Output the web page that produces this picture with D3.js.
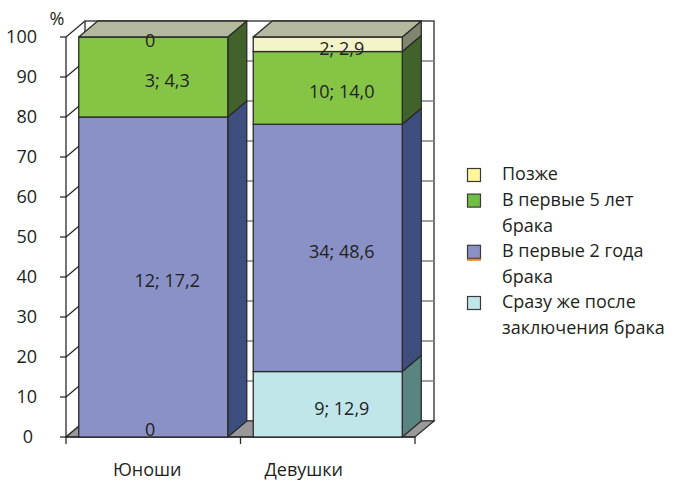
<!DOCTYPE html>
<html>
<head>
<meta charset="utf-8">
<script src="https://cdn.jsdelivr.net/npm/d3@7"></script>
<style>
  html, body { margin: 0; padding: 0; background: #fff; }
  svg text { font-family: "Open Sans", "Noto Sans", sans-serif; fill: #231f20; }
</style>
</head>
<body>
<svg id="chart" width="673" height="483"></svg>
<script>
// Categories and raw counts per series (bottom to top of each stack)
const categories = ["Юноши", "Девушки"];
const seriesNames = ["Сразу же после заключения брака", "В первые 2 года брака", "В первые 5 лет брака", "Позже"];
const counts = {
  "Юноши":   [0, 12, 3, 0],
  "Девушки": [9, 34, 10, 2]
};
const percents = {
  "Юноши":   [null, 17.2, 4.3, null],
  "Девушки": [12.9, 48.6, 14.0, 2.9]
};
const yTicks = [0, 10, 20, 30, 40, 50, 60, 70, 80, 90, 100];

// Face colours: front, side, legend swatch
const frontColors = ["#c0e6ea", "#8a91c6", "#86c446", "#f4f4c8"];
const sideColors  = ["#5a8480", "#3e4f7f", "#41622a", "#7e8670"];
const swatchColors = ["#c0e6ea", "#8a91c6", "#70bf44", "#fff799"];
const topColor = "#b4b99d";
const stroke = "#2a2a2a";
const fs = 18;

const svg = d3.select("#chart");

// Plot frame (front plane) and depth offset of the 3D box
const x0 = 66, x1 = 415, yTop = 37, yBot = 437;
const dx = 19, dy = 16;

const y = d3.scaleLinear().domain([0, 100]).range([yBot, yTop]);
const x = d3.scaleBand().domain(categories).range([x0, x1])
  .paddingInner(0.146).paddingOuter(0.073);

const poly = pts => "M" + pts.map(p => p.join(",")).join("L") + "Z";

// Back wall with gridlines
svg.append("rect")
  .attr("x", x0 + dx).attr("y", yTop - dy)
  .attr("width", x1 - x0).attr("height", yBot - yTop)
  .attr("fill", "#fff").attr("stroke", stroke).attr("stroke-width", 1.3);
svg.append("g").selectAll("line").data(yTicks.slice(1, -1)).join("line")
  .attr("x1", x0 + dx).attr("x2", x1 + dx)
  .attr("y1", d => y(d) - dy).attr("y2", d => y(d) - dy)
  .attr("stroke", "#808080").attr("stroke-width", 1.3);

// Side wall diagonals
svg.append("g").selectAll("line").data(yTicks).join("line")
  .attr("x1", x0).attr("x2", x0 + dx)
  .attr("y1", d => y(d)).attr("y2", d => y(d) - dy)
  .attr("stroke", stroke).attr("stroke-width", 1.2);

// Floor
svg.append("path")
  .attr("d", poly([[x0, yBot], [x1, yBot], [x1 + dx, yBot - dy], [x0 + dx, yBot - dy]]))
  .attr("fill", "#999999").attr("stroke", stroke).attr("stroke-width", 1.2);

// Front axes
svg.append("line").attr("x1", x0).attr("x2", x0).attr("y1", yTop).attr("y2", yBot)
  .attr("stroke", stroke).attr("stroke-width", 1.3);
svg.append("line").attr("x1", x0).attr("x2", x1).attr("y1", yBot).attr("y2", yBot)
  .attr("stroke", stroke).attr("stroke-width", 1.3);
svg.append("g").selectAll("line").data(yTicks).join("line")
  .attr("x1", x0 - 6).attr("x2", x0)
  .attr("y1", d => y(d)).attr("y2", d => y(d))
  .attr("stroke", stroke).attr("stroke-width", 1.3);
svg.append("g").selectAll("text").data(yTicks).join("text")
  .attr("x", d => d === 0 ? 33 : 37).attr("y", d => y(d))
  .attr("dy", "0.36em").attr("text-anchor", "end")
  .attr("font-size", fs).text(d => d);
svg.append("text").attr("x", 57).attr("y", 19).attr("dy", "0.36em")
  .attr("text-anchor", "middle").attr("font-size", fs).text("%");

// Category ticks at band boundaries
const step = x.step();
const boundaries = [x0].concat(categories.map((c, i) => x0 + step * (i + 1)));
svg.append("g").selectAll("line").data(boundaries).join("line")
  .attr("x1", d => d).attr("x2", d => d)
  .attr("y1", yBot).attr("y2", yBot + 7)
  .attr("stroke", stroke).attr("stroke-width", 1.3);
const catNudge = { "Юноши": -6, "Девушки": -24 };
svg.append("g").selectAll("text").data(categories).join("text")
  .attr("x", d => x(d) + x.bandwidth() / 2 + catNudge[d])
  .attr("y", 470).attr("dy", "0.36em")
  .attr("text-anchor", "middle").attr("font-size", fs).text(d => d);

// Stacked 3D bars, normalised to 100 %
categories.forEach(cat => {
  const vals = counts[cat];
  const total = d3.sum(vals);
  const bx = x(cat), bw = x.bandwidth();
  let acc = 0;
  const segs = vals.map((v, i) => {
    const s = { i, v, lo: acc / total * 100, hi: (acc + v) / total * 100 };
    acc += v;
    return s;
  });
  const g = svg.append("g");
  segs.forEach(s => {
    if (s.v === 0) return;
    const ya = y(s.lo), yb = y(s.hi);
    g.append("path")
      .attr("d", poly([[bx + bw, yb], [bx + bw + dx, yb - dy], [bx + bw + dx, ya - dy], [bx + bw, ya]]))
      .attr("fill", sideColors[s.i]).attr("stroke", stroke).attr("stroke-width", 1.3)
      .attr("stroke-linejoin", "round");
    g.append("rect")
      .attr("x", bx).attr("y", yb).attr("width", bw).attr("height", ya - yb)
      .attr("fill", frontColors[s.i]).attr("stroke", stroke).attr("stroke-width", 1.3);
  });
  const yt = y(100);
  g.append("path")
    .attr("d", poly([[bx, yt], [bx + bw, yt], [bx + bw + dx, yt - dy], [bx + dx, yt - dy]]))
    .attr("fill", topColor).attr("stroke", stroke).attr("stroke-width", 1.3)
    .attr("stroke-linejoin", "round");

  // Value labels: "count; percent"
  segs.forEach(s => {
    const mid = y((s.lo + s.hi) / 2);
    const pct = percents[cat][s.i];
    const txt = s.v === 0 ? "0" : s.v + "; " + d3.format(".1f")(pct).replace(".", ",");
    const lx = bx + bw / 2 + (s.v === 0 ? -3 : 14);
    const ly = Math.min(mid + 4, yBot - 7);
    svg.append("text").attr("x", lx).attr("y", ly).attr("dy", "0.36em")
      .attr("text-anchor", "middle").attr("font-size", fs).text(txt);
  });
});

// Legend (top series first)
const legendItems = [
  { i: 3, lines: ["Позже"] },
  { i: 2, lines: ["В первые 5 лет", "брака"] },
  { i: 1, lines: ["В первые 2 года", "брака"] },
  { i: 0, lines: ["Сразу же после", "заключения брака"] }
];
const lineH = 25.6;
let row = 0;
const lg = svg.append("g");
legendItems.forEach(item => {
  const cy = 174 + row * lineH;
  lg.append("rect").attr("x", 467.5).attr("y", cy - 5.5).attr("width", 13).attr("height", 13)
    .attr("fill", swatchColors[item.i]).attr("stroke", "#3a3a3a").attr("stroke-width", 1.2);
  if (item.i === 1) {
    lg.append("line").attr("x1", 467).attr("x2", 481).attr("y1", cy + 9).attr("y2", cy + 9)
      .attr("stroke", "#f07f1a").attr("stroke-width", 2);
  }
  item.lines.forEach((t, k) => {
    lg.append("text").attr("x", 502).attr("y", cy + k * lineH).attr("dy", "0.36em")
      .attr("font-size", fs).text(t);
  });
  row += item.lines.length;
});
</script>
</body>
</html>
